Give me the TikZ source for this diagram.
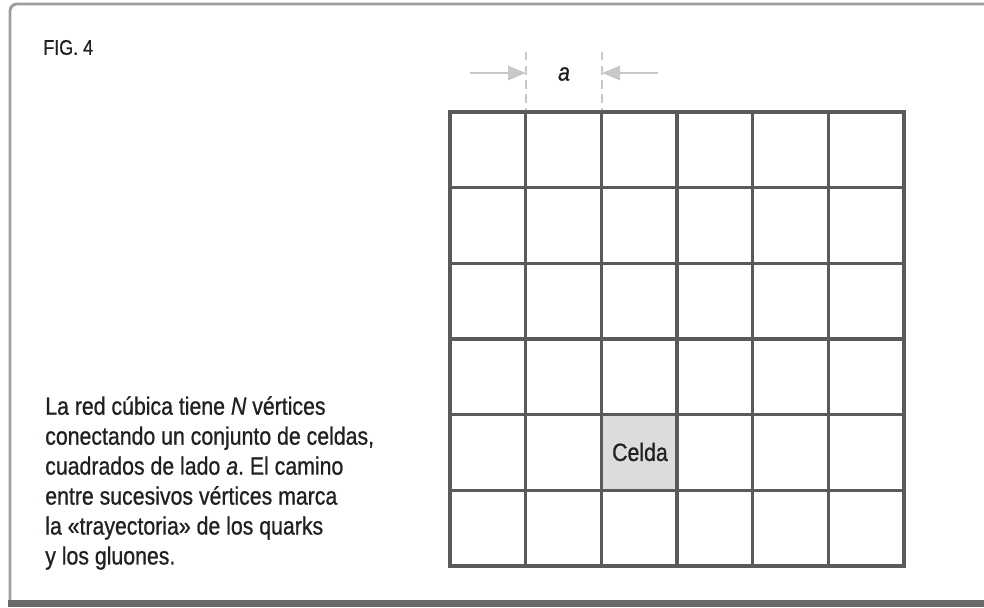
\documentclass[tikz,border=0pt]{standalone}
\usepackage{fontspec}
\setmainfont{Liberation Sans}[FakeStretch=0.85, FakeBold=0.8]
\usepackage{tikz}
\usetikzlibrary{arrows.meta,positioning}
\usepackage{xcolor}
\definecolor{gDark}{HTML}{5A5A5A}
\definecolor{gCell}{HTML}{DCDCDC}
\definecolor{gDim}{HTML}{C8C8C8}
\definecolor{gFrame}{HTML}{9E9E9E}
\definecolor{gBase}{HTML}{6A6A6A}
\definecolor{tInk}{HTML}{231F20}
\newcommand{\bodyfont}{\fontsize{17.8}{21.3}\selectfont}
\frenchspacing
\tikzset{
  cellbox/.style={fill=gCell, minimum size=1.892cm, inner sep=0pt,
                  font=\bodyfont, text=tInk},
  gridline/.style={draw=gDark, line width=2.3pt, line cap=rect},
  dimline/.style={draw=gDim, line width=2pt, dash pattern=on 6pt off 4pt},
  dimarr/.style={-{Triangle[length=12.8pt, width=10pt]}, draw=gDim, fill=gDim,
                 line width=2pt},
  caption/.style={align=left, inner sep=0pt, font=\bodyfont, text=tInk},
}

\begin{document}
\begin{tikzpicture}[x=0.025cm, y=-0.025cm]
    \useasboundingbox (0,0) rectangle (984,607);
    % frame
    \draw[gFrame, line width=2.1pt, rounded corners=5pt] (990,4) -| (10,600);
    \fill[gBase] (8,600) rectangle (984,607);
    \node[anchor=west, inner sep=0pt, font=\fontsize{15}{18}\selectfont, text=tInk]
      (fig) at (43,47.5) {FIG. 4};
    % lattice
    \node[cellbox] (celda) at (640,452) {Celda};
    \foreach \i in {1,...,5} {
      \draw[gridline] ({450+75.67*\i},112) -- ({450+75.67*\i},566);
      \draw[gridline] (450,{112+75.67*\i}) -- (904,{112+75.67*\i});
    }
    \draw[gridline] (450,112) rectangle (904,566);
    % side a
    \coordinate (la) at (526,52);
    \coordinate (lb) at (526,110);
    \coordinate (ra) at (602,52);
    \coordinate (rb) at (602,110);
    \draw[dimline] (la) -- (lb);
    \draw[dimline] (ra) -- (rb);
    \coordinate (lin) at (470,73);
    \coordinate (rin) at (658,73);
    \draw[dimarr] (lin) -- (lin -| la);
    \draw[dimarr] (rin) -- (rin -| ra);
    \node[font=\bodyfont\itshape, text=tInk] (side) at (564,74) {a};
    % text
    \node[caption, anchor=north west] (desc) at (45,396)
      {La red cúbica tiene \textit{N} vértices\\
       conectando un conjunto de celdas,\\
       cuadrados de lado \textit{a}. El camino\\
       entre sucesivos vértices marca\\
       la «trayectoria» de los quarks\\
       y los gluones.};
\end{tikzpicture}
\end{document}
